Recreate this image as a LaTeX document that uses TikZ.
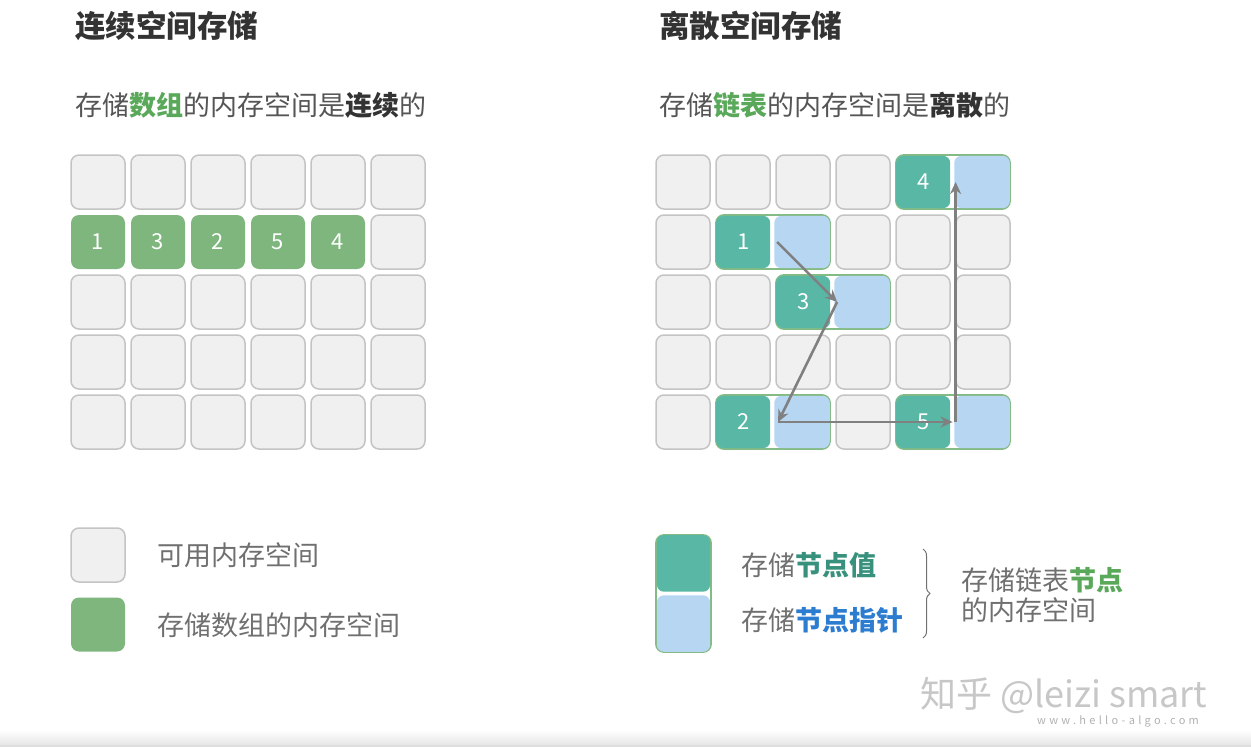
\documentclass[tikz,border=0pt]{standalone}
\usepackage{fontspec}
\setmainfont{Noto Sans CJK SC}
\usetikzlibrary{arrows.meta, positioning, decorations.pathreplacing}
\definecolor{cellgray}{RGB}{240,240,240}
\definecolor{cellline}{RGB}{196,196,196}
\definecolor{arrgreen}{RGB}{126,182,126}
\definecolor{valteal}{RGB}{88,183,165}
\definecolor{ptrblue}{RGB}{182,214,242}
\definecolor{nodeline}{RGB}{132,187,132}
\definecolor{linkgray}{RGB}{128,128,128}
\definecolor{titlegray}{RGB}{51,51,51}
\definecolor{textgray}{RGB}{85,85,85}
\definecolor{notegray}{RGB}{112,112,112}
\definecolor{hlgreen}{RGB}{90,168,90}
\definecolor{hlteal}{RGB}{56,145,125}
\definecolor{hlblue}{RGB}{44,124,208}

\tikzset{
  freecell/.style={rectangle, rounded corners=8pt, draw=cellline, line width=1.5pt, fill=cellgray, minimum width=54pt, minimum height=54pt, inner sep=0pt},
  arraycell/.style={rectangle, rounded corners=8pt, fill=arrgreen, minimum width=54pt, minimum height=54pt, inner sep=0pt, text=white, font=\fontsize{22}{22}\selectfont},
  linkbox/.style={rectangle, rounded corners=8pt, draw=nodeline, line width=1.8pt, fill=white, minimum width=114pt, minimum height=54pt, inner sep=0pt},
  valpart/.style={rectangle, rounded corners=7pt, fill=valteal, minimum width=54pt, minimum height=52.2pt, inner sep=0pt, text=white, font=\fontsize{22}{22}\selectfont},
  ptrpart/.style={rectangle, rounded corners=7pt, fill=ptrblue, minimum width=55.5pt, minimum height=52.2pt, inner sep=0pt},
  nextlink/.style={draw=linkgray, line width=2.6pt, -{Stealth[length=12pt, width=11pt]}},
  headline/.style={inner sep=0pt, anchor=west, text=titlegray, font=\fontsize{30.5}{36}\selectfont\bfseries},
  subline/.style={inner sep=0pt, anchor=west, text=textgray, font=\fontsize{27}{32}\selectfont},
  note/.style={inner sep=0pt, anchor=west, text=notegray, font=\fontsize{27}{30}\selectfont},
}

\begin{document}
\begin{tikzpicture}[x=1pt, y=-1pt]
\fill[white] (0,0) rectangle (1251,748);
\useasboundingbox (0,0) rectangle (1251,748);

% Titles
\node[headline] (titleL) at (75,26) {连续空间存储};
\node[headline] (titleR) at (659,26) {离散空间存储};
\node[subline] (subL) at (75,105) {存储\textbf{\color{hlgreen}数组}的内存空间是\textbf{\color{titlegray}连续}的};
\node[subline] (subR) at (659,105) {存储\textbf{\color{hlgreen}链表}的内存空间是\textbf{\color{titlegray}离散}的};

% Array memory: free cells and the array
\foreach \r in {0,...,4}
  \foreach \c in {0,...,5} {
    \pgfmathtruncatemacro\busy{(\r==1)&&(\c<5)}
    \ifnum\busy=0 \node[freecell] (a\r\c) at (98+60*\c, 182+60*\r) {}; \fi
  }
\foreach \v [count=\c from 0] in {1,3,2,5,4}
  \node[arraycell] (a1\c) at (98+60*\c, 242) {\v};

% Linked list memory: free cells and list nodes
\foreach \r/\c in {0/0,0/1,0/2,0/3,1/0,1/3,1/4,1/5,2/0,2/1,2/4,2/5,3/0,3/1,3/2,3/3,3/4,3/5,4/0,4/3}
  \node[freecell] (b\r\c) at (683+60*\c, 182+60*\r) {};
\foreach \k/\cx/\cy in {1/773/242, 3/833/302, 4/953/182, 2/773/422, 5/953/422} {
  \node[linkbox] (n\k) at (\cx,\cy) {};
  \node[valpart, anchor=west] (v\k) at ([xshift=0.9pt]n\k.west) {\k};
  \node[ptrpart, anchor=east] (p\k) at ([xshift=-0.9pt]n\k.east) {};
}

% Pointers
\draw[nextlink] ([xshift=3pt]p1.west) -- ([xshift=3pt]p3.west);
\draw[nextlink] ([xshift=3pt]p3.west) -- ([xshift=4pt]p2.west);
\draw[nextlink] ([xshift=4pt]p2.west) -- ([xshift=-1.5pt]p5.west);
\draw[nextlink] ([xshift=1.5pt]p5.west) -- ([xshift=1.5pt]p4.west);

% Legend, left
\node[freecell] (keyfree) at (98,555) {};
\node[arraycell] (keyarr) at (98,624.5) {};
\node[note] (keyfreetxt) at (157,555) {可用内存空间};
\node[note] (keyarrtxt) at (157,625) {存储数组的内存空间};

% Legend, right
\node[linkbox, minimum width=55pt, minimum height=117pt] (keynode) at (683.5,593.5) {};
\node[valpart, minimum width=53.2pt, minimum height=56.5pt, anchor=north] (keyval) at ([yshift=-0.9pt]keynode.north) {};
\node[ptrpart, minimum width=53.2pt, minimum height=56.5pt, anchor=south] (keyptr) at ([yshift=0.9pt]keynode.south) {};
\node[note] (keyvaltxt) at (741,565) {存储\textbf{\color{hlteal}节点值}};
\node[note] (keyptrtxt) at (741,620) {存储\textbf{\color{hlblue}节点指针}};
\draw[notegray, line width=1pt, decorate, decoration={brace, amplitude=7pt}] (923,549) -- (923,638);
\node[note, align=left] (keylinktxt) at (961,595) {存储链表\textbf{\color{hlgreen}节点}\\的内存空间};

% Watermark and bottom edge
\node[inner sep=0pt, anchor=west, text=black!22, font=\fontsize{36}{36}\selectfont] (wm) at (920,695) {知乎 @leizi smart};
\node[inner sep=0pt, anchor=west, text=black!30, font=\fontsize{11}{11}\selectfont\addfontfeatures{LetterSpace=30}] (wmurl) at (1037,721) {www.hello-algo.com};
\shade[top color=white, bottom color=black!10] (0,730) rectangle (1251,745);
\fill[black!13] (0,745) rectangle (1251,746.5);
\end{tikzpicture}
\end{document}
